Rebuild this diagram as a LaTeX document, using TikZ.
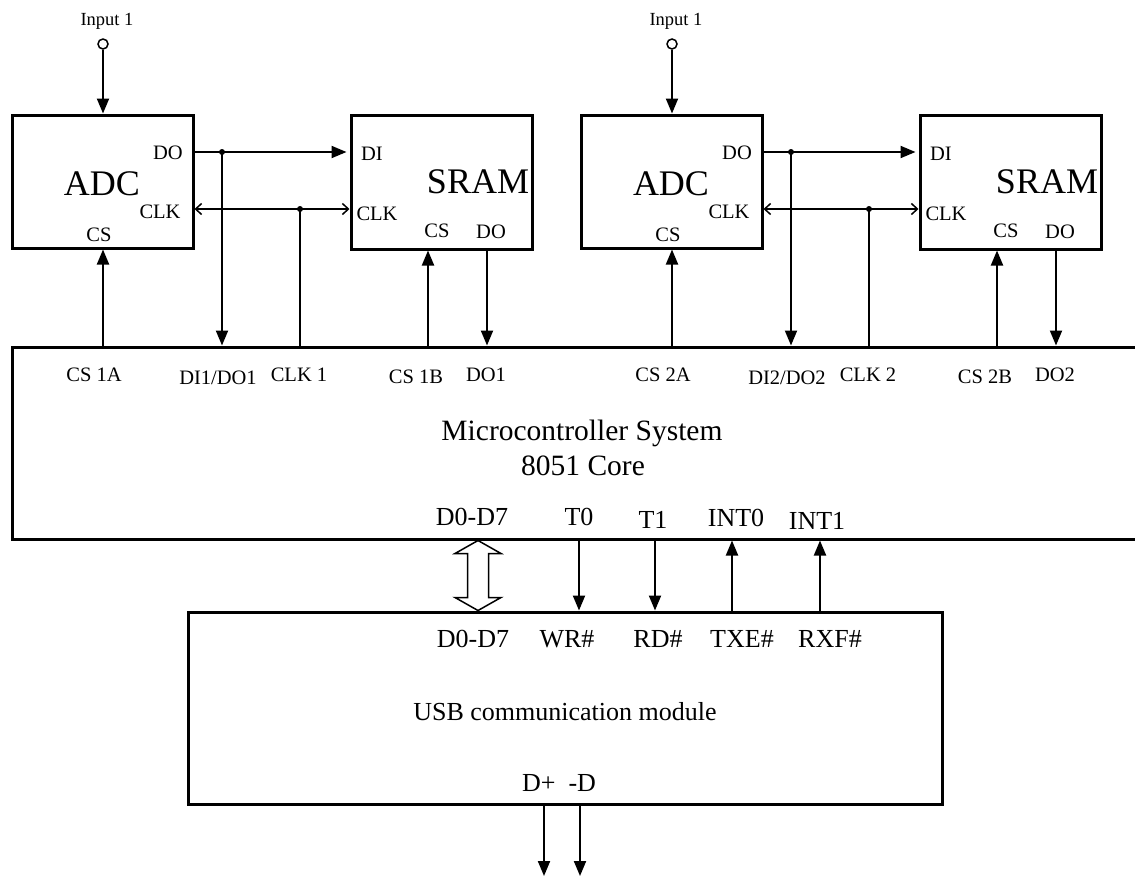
\documentclass[tikz,border=0pt]{standalone}
\usepackage{fontspec}
\setmainfont{Liberation Serif}
\usetikzlibrary{arrows.meta,calc}
\tikzset{
  box/.style={draw, line width=3pt, inner sep=0pt},
  ftiny/.style={font=\fontsize{18.5}{22}\selectfont, inner sep=0pt, anchor=base},
  fsmall/.style={font=\fontsize{20.5}{24}\selectfont, inner sep=0pt, anchor=base},
  fmid/.style={font=\fontsize{26}{30}\selectfont, inner sep=0pt, anchor=base},
  ftitle/.style={font=\fontsize{29.5}{34}\selectfont, inner sep=0pt, anchor=base},
  fbig/.style={font=\fontsize{36}{40}\selectfont, inner sep=0pt, anchor=base},
  wire/.style={line width=2pt},
  sol/.style={-{Triangle[length=15pt,width=12pt]}},
  clkw/.style={line width=1.5pt, {Straight Barb[length=6pt,width=11pt]}-{Straight Barb[length=6pt,width=11pt]}},
  pin/.style={circle, draw, line width=1.5pt, minimum size=10pt, inner sep=0pt},
  dotj/.style={circle, fill, minimum size=6pt, inner sep=0pt},
}
\begin{document}
\begin{tikzpicture}[x=1pt,y=-1pt]
\clip (0,0) rectangle (1135,876);

% main boxes
\node[box, minimum width=1140pt, minimum height=192pt] (mcs) at (582,443) {};
\node[box, minimum width=754pt, minimum height=192pt] (usb) at (565,708) {};

\foreach \i/\dx in {1/0,2/569}{
\begin{scope}[xshift=\dx pt]
  \node[box, minimum width=181pt, minimum height=133pt] (adc\i) at (102.5,181.5) {};
  \node[box, minimum width=181pt, minimum height=134pt] (sram\i) at (441.5,182) {};
  % texts in ADC
  \node[fbig] (adct\i) at (102,195) {ADC};
  \node[fsmall] (adcdo\i) at (168,159) {DO};
  \node[fsmall] (adcclk\i) at (160,218) {CLK};
  \node[fsmall] (adccs\i) at (99,241) {CS};
  % texts in SRAM
  \node[fbig] (sramt\i) at (478,193) {SRAM};
  \node[fsmall] (sramdi\i) at (372,160) {DI};
  \node[fsmall] (sramclk\i) at (377,220) {CLK};
  \node[fsmall] (sramcs\i) at (437,237) {CS};
  \node[fsmall] (sramdo\i) at (491,238) {DO};
  % input
  \node[pin] (in\i) at (103,44) {};
  \node[ftiny] (inl\i) at (107,25) {Input 1};
  \draw[wire, sol] (in\i.south) -- (adc\i.north -| in\i);
  % coordinates
  \coordinate (ydo\i) at (0,152);
  \node[dotj] (jd\i) at (222,152) {};
  \node[dotj] (jc\i) at (300,209) {};
  \coordinate (ca\i) at (103,0);
  \coordinate (cb\i) at (428,0);
  \coordinate (db\i) at (487,0);
  % data line ADC -> SRAM
  \draw[wire, sol, shorten >=3pt] (adc\i.east |- ydo\i) -- (sram\i.west |- ydo\i);
  % clock line
  \draw[clkw] (adc\i.east |- jc\i) -- (sram\i.west |- jc\i);
  % verticals to MCS
  \draw[wire, sol] (jd\i.center) -- (mcs.north -| jd\i);
  \draw[wire] (jc\i.center) -- (mcs.north -| jc\i);
  \draw[wire, sol] (mcs.north -| ca\i) -- (adc\i.south -| ca\i);
  \draw[wire, sol] (mcs.north -| cb\i) -- (sram\i.south -| cb\i);
  \draw[wire, sol] (sram\i.south -| db\i) -- (mcs.north -| db\i);
  % labels in MCS
  \node[fsmall] (lca\i) at (94,381) {CS \i A};
  \node[fsmall] (ldd\i) at (218,384) {DI\i/DO\i};
  \node[fsmall] (lck\i) at (299,381) {CLK \i};
  \node[fsmall] (lcb\i) at (416,383) {CS \i B};
  \node[fsmall] (ldo\i) at (486,381) {DO\i};
\end{scope}
}

% MCS texts
\node[ftitle] (mcst1) at (582,440) {Microcontroller System};
\node[ftitle] (mcst2) at (583,475) {8051 Core};
\node[fmid] (md) at (472,525) {D0-D7};
\node[fmid] (mt0) at (579,525) {T0};
\node[fmid] (mt1) at (653,528) {T1};
\node[fmid] (mi0) at (736,526) {INT0};
\node[fmid] (mi1) at (817,529) {INT1};

% USB texts
\node[fmid] (ud) at (473,647) {D0-D7};
\node[fmid] (uwr) at (567,647) {WR\#};
\node[fmid] (urd) at (658,647) {RD\#};
\node[fmid] (utx) at (742,647) {TXE\#};
\node[fmid] (urx) at (830,647) {RXF\#};
\node[fmid] (usbt) at (565,720) {USB communication module};
\node[fmid] (udpm) at (559,791) {D+\ \ -D};

% MCS <-> USB signals
\coordinate (xt0) at (579,0);
\coordinate (xt1) at (655,0);
\coordinate (xi0) at (732,0);
\coordinate (xi1) at (820,0);
\draw[wire, sol] (mcs.south -| xt0) -- (usb.north -| xt0);
\draw[wire, sol] (mcs.south -| xt1) -- (usb.north -| xt1);
\draw[wire, sol] (usb.north -| xi0) -- (mcs.south -| xi0);
\draw[wire, sol] (usb.north -| xi1) -- (mcs.south -| xi1);

% data bus double arrow
\coordinate (bus) at (478,0);
\coordinate (busT) at (mcs.south -| bus);
\coordinate (busB) at (usb.north -| bus);
\draw[line width=1.5pt, line join=miter, fill=white]
  (busT) -- ++(-23,13) -- ++(12.5,0) |- ($(busB)+(-23,-13)$) -- (busB)
  -- ++(23,-13) -- ++(-12.5,0) |- ($(busT)+(23,13)$) -- cycle;

% USB outputs
\coordinate (dp) at (544,876);
\coordinate (dm) at (580,876);
\draw[wire, sol] (usb.south -| dp) -- (dp);
\draw[wire, sol] (usb.south -| dm) -- (dm);
\end{tikzpicture}
\end{document}
